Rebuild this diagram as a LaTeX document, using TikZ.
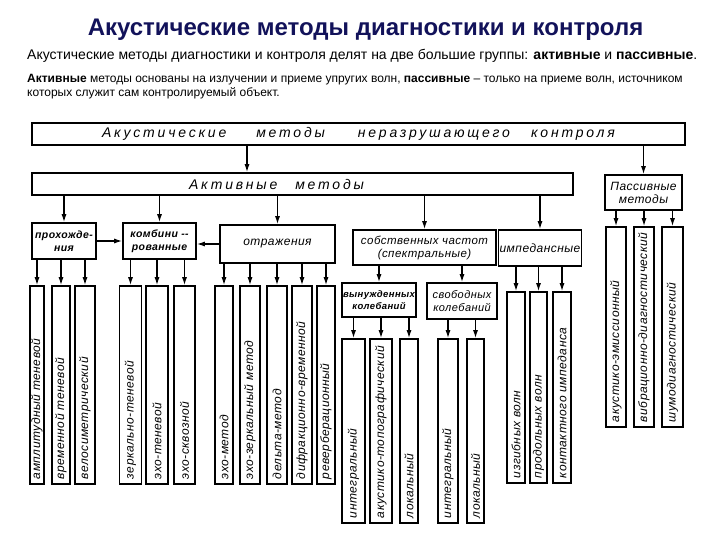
\documentclass[tikz,border=0pt]{standalone}
\usepackage{fontspec}
\setmainfont{Liberation Sans}
\newfontfamily\drawfont{Liberation Sans}[LetterSpace=4]
\usetikzlibrary{arrows.meta}
\definecolor{titlenavy}{HTML}{12125A}

\begin{document}
\begin{tikzpicture}[x=1pt, y=-1pt,
    % box and arrow styles
    box/.style={draw=black, line width=1.6pt, inner sep=1pt, align=center,
      font=\drawfont\itshape\fontsize{12}{13}\selectfont},
    boldbox/.style={box, font=\drawfont\itshape\bfseries\fontsize{10.5}{12.5}\selectfont},
    widebox/.style={box, font=\drawfont\itshape\fontsize{14}{14}\selectfont\addfontfeature{LetterSpace=20}},
    leaf/.style={draw=black, line width=1.6pt, rotate=90, inner xsep=5pt, inner ysep=0pt,
      align=left, font=\drawfont\itshape\fontsize{12}{12}\selectfont},
    arr/.style={-{Latex[length=8pt,width=5pt]}, line width=1.3pt}
]
\useasboundingbox (0,0) rectangle (720,540);

% 1. Header texts
\node[anchor=base, font=\bfseries\fontsize{24}{24}\selectfont, text=titlenavy] (title) at (365.5,36)
  {Акустические методы диагностики и контроля};
\node[anchor=base west, inner sep=0pt, font=\fontsize{14}{14}\selectfont] (intro) at (27,60)
  {Акустические методы диагностики и контроля делят на две большие группы: \textbf{активные} и \textbf{пассивные}.};
\node[anchor=north west, inner sep=0pt, align=left, font=\fontsize{12}{14}\selectfont] (expl) at (27,74)
  {\textbf{Активные} методы основаны на излучении и приеме упругих волн, \textbf{пассивные} -- только на приеме волн, источником\\
   которых служит сам контролируемый объект.};

% 2. Top level boxes
\node[widebox, minimum width=653pt, minimum height=22pt] (ndt) at (358.5,134)
  {Акустические\hspace{30pt}методы\hspace{33pt}неразрушающего\hspace{21pt}контроля};
\node[widebox, minimum width=541pt, minimum height=22pt] (active) at (302.5,184)
  {Активные\hspace{18pt}методы\hspace*{52pt}};
\node[box, minimum width=77pt, minimum height=35pt] (passive) at (643.5,192.5)
  {Пассивные\\методы};

% 3. Groups of active methods
\node[boldbox, minimum width=64pt, minimum height=36pt] (trans) at (64,241) {прохожде-\\ния};
\node[boldbox, minimum width=73pt, minimum height=36pt] (comb) at (159.5,241) {комбини --\\рованные};
\node[box, minimum width=115pt, minimum height=38pt] (refl) at (277.5,244) {отражения};
\node[box, font=\drawfont\itshape\fontsize{11.5}{13}\selectfont,
      minimum width=143pt, minimum height=35pt] (eigen) at (424.5,247.5)
  {собственных частот\\(спектральные)};
\node[box, minimum width=80pt, minimum height=36pt] (imped) at (540,248) {импедансные};

\node[boldbox, font=\drawfont\itshape\bfseries\fontsize{9.5}{12}\selectfont,
      minimum width=72pt, minimum height=34pt] (forced) at (379,300) {вынужденных\\колебаний};
\node[box, font=\drawfont\itshape\fontsize{11}{12.5}\selectfont,
      minimum width=70pt, minimum height=36pt] (free) at (462,301) {свободных\\колебаний};

% 4. Leaves
\node[leaf, text width=188pt, minimum height=14pt] (ampl) at (37,385) {амплитудный теневой};
\node[leaf, text width=188pt, minimum height=18pt] (time) at (61,385) {временной теневой};
\node[leaf, text width=188pt, minimum height=20pt] (velo) at (85,385) {велосиметрический};

\node[leaf, text width=188pt, minimum height=22pt] (mirsh) at (130.5,385) {зеркально-теневой};
\node[leaf, text width=188pt, minimum height=22pt] (echosh) at (157,385) {эхо-теневой};
\node[leaf, text width=188pt, minimum height=21pt] (echothr) at (184.5,385) {эхо-сквозной};

\node[leaf, text width=188pt, minimum height=18pt] (echo) at (224,385) {эхо-метод};
\node[leaf, text width=188pt, minimum height=20pt] (echomir) at (250,385) {эхо-зеркальный метод};
\node[leaf, text width=188pt, minimum height=20pt] (delta) at (277,385) {дельта-метод};
\node[leaf, text width=188pt, minimum height=20pt] (diffr) at (302,385) {дифракционно-временной};
\node[leaf, text width=188pt, minimum height=18pt] (reverb) at (326,385) {реверберационный};

\node[leaf, text width=174pt, minimum height=23pt] (fint) at (353.5,431) {интегральный};
\node[leaf, text width=174pt, minimum height=22pt] (ftopo) at (381,431) {акустико-топографический};
\node[leaf, text width=174pt, minimum height=18pt] (floc) at (409,431) {локальный};
\node[leaf, text width=174pt, minimum height=20pt] (sint) at (448,431) {интегральный};
\node[leaf, text width=174pt, minimum height=17pt] (sloc) at (475.5,431) {локальный};

\node[leaf, text width=181pt, minimum height=18pt] (bend) at (516,387.5) {изгибных волн};
\node[leaf, text width=181pt, minimum height=17pt] (longw) at (538.5,387.5) {продольных волн};
\node[leaf, text width=181pt, minimum height=18pt] (contact) at (562,387.5) {контактного импеданса};

\node[leaf, text width=190pt, minimum height=20pt] (emiss) at (616,327) {акустико-эмиссионный};
\node[leaf, text width=190pt, minimum height=20pt] (vibr) at (644,327) {вибрационно-диагностический};
\node[leaf, text width=190pt, minimum height=21pt] (noise) at (672.5,327) {шумодиагностический};

% 5. Arrows between levels
\draw[arr] ([xshift=-111.5pt]ndt.south) -- ([xshift=-55.5pt]active.north);
\draw[arr] (passive.north |- ndt.south) -- (passive.north);
\foreach \g in {trans, comb, refl, eigen, imped}
  \draw[arr] (\g.north |- active.south) -- (\g.north);
\draw[arr] (trans.east) -- (comb.west);
\draw[arr] (refl.west) -- (comb.east |- refl.west);
\draw[arr] (forced.north |- eigen.south) -- (forced.north);
\draw[arr] (free.north |- eigen.south) -- (free.north);

% 6. Arrows to the leaves
\foreach \p/\l in {trans/ampl, trans/time, trans/velo,
                   comb/mirsh, comb/echosh, comb/echothr,
                   refl/echo, refl/echomir, refl/delta, refl/diffr, refl/reverb,
                   forced/fint, forced/ftopo, forced/floc, free/sint, free/sloc,
                   imped/bend, imped/longw, imped/contact,
                   passive/emiss, passive/vibr, passive/noise}
  \draw[arr] (\l.east |- \p.south) -- (\l.east);

\end{tikzpicture}
\end{document}
